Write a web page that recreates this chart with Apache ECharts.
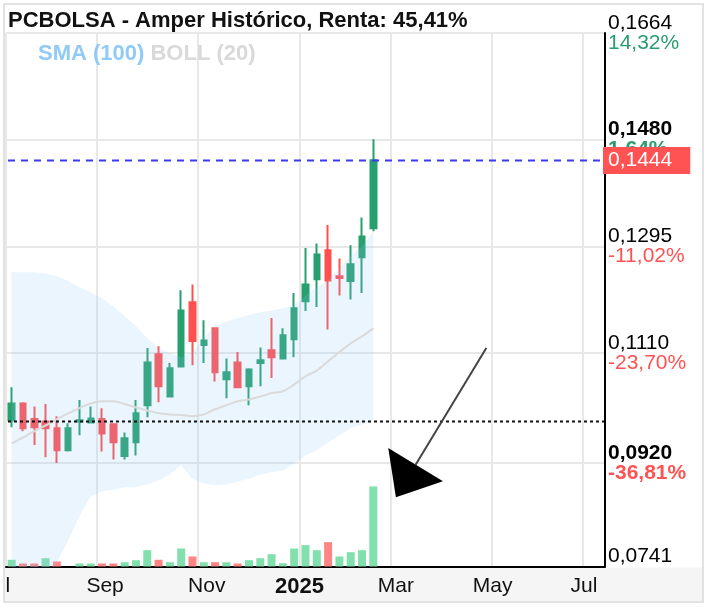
<!DOCTYPE html>
<html><head><meta charset="utf-8">
<script src="https://cdn.jsdelivr.net/npm/echarts@6/dist/echarts.min.js"></script>
<style>
html,body{margin:0;padding:0;background:#fff;}
#wrap{position:absolute;left:3px;top:3px;width:697px;height:596px;border:2px solid #e2e2e2;overflow:hidden;background:#fff;}
#chart{width:697px;height:596px;}
</style></head><body>
<div id="wrap"><div id="chart"></div></div>
<script>
// ---- data ----
const titleText = 'PCBOLSA - Amper Histórico, Renta: 45,41%';
const weeks = ['2024-07-08','2024-07-15','2024-07-22','2024-07-29','2024-08-05','2024-08-12','2024-08-19','2024-08-26',
 '2024-09-02','2024-09-09','2024-09-16','2024-09-23','2024-09-30','2024-10-07','2024-10-14','2024-10-21','2024-10-28',
 '2024-11-04','2024-11-11','2024-11-18','2024-11-25','2024-12-02','2024-12-09','2024-12-16','2024-12-23','2024-12-30',
 '2025-01-06','2025-01-13','2025-01-20','2025-01-27','2025-02-03','2025-02-10','2025-02-17','2025-02-24',
 '2025-03-03','2025-03-10','2025-03-17','2025-03-24','2025-03-31','2025-04-07','2025-04-14','2025-04-21','2025-04-28',
 '2025-05-05','2025-05-12','2025-05-19','2025-05-26','2025-06-02','2025-06-09','2025-06-16','2025-06-23','2025-06-30','2025-07-07'];
// [open, close, low, high]
const candles = [
 [0.0994,0.1023,0.0982,0.1051],[0.1023,0.0980,0.0975,0.1025],[0.0996,0.0982,0.0951,0.1018],[0.0992,0.0980,0.0930,0.1022],
 [0.0980,0.0942,0.0920,0.1001],[0.0942,0.0980,0.0940,0.0989],[0.0992,0.0994,0.0968,0.1029],[0.0990,0.0997,0.0990,0.1018],
 [0.0996,0.0971,0.0940,0.1015],[0.0987,0.0956,0.0926,0.0989],[0.0932,0.0963,0.0926,0.0973],[0.0956,0.1006,0.0933,0.1029],
 [0.1020,0.1094,0.0999,0.1119],[0.1108,0.1053,0.1025,0.1122],[0.1035,0.1084,0.1034,0.1093],[0.1087,0.1184,0.1086,0.1219],
 [0.1198,0.1131,0.1089,0.1229],[0.1124,0.1132,0.1093,0.1167],[0.1153,0.1077,0.1061,0.1155],[0.1065,0.1077,0.1032,0.1101],
 [0.1094,0.1051,0.1050,0.1112],[0.1053,0.1082,0.1020,0.1084],[0.1093,0.1098,0.1053,0.1120],[0.1115,0.1103,0.1067,0.1171],
 [0.1101,0.1141,0.1100,0.1153],[0.1134,0.1188,0.1103,0.1214],[0.1200,0.1229,0.1183,0.1292],[0.1238,0.1281,0.1190,0.1300],
 [0.1288,0.1236,0.1151,0.1332],[0.1243,0.1240,0.1210,0.1274],[0.1235,0.1264,0.1203,0.1297],[0.1276,0.1312,0.1214,0.1345],
 [0.1326,0.1444,0.1321,0.1480]];
const volumes = [67,30,30,83,50,0,30,30,30,30,43,63,163,67,43,180,100,43,43,43,30,63,83,123,33,180,213,163,243,100,143,163,800];
const volumeUp = [1,0,0,1,0,1,1,1,0,0,1,1,1,0,1,1,0,1,0,1,0,1,1,1,1,1,1,1,0,1,1,1,1];
const bollUpper = [0.1250,0.1250,0.1250,0.1248,0.1243,0.1235,0.1224,0.1216,0.1205,0.1191,0.1174,0.1157,0.1136,0.1119,0.1110,0.1103,
 0.1112,0.1136,0.1157,0.1165,0.1171,0.1176,0.1181,0.1184,0.1188,0.1193,0.1209,0.1224,0.1236,0.1257,0.1278,0.1295,0.1321];
const bollMiddle = [0.0954,0.0964,0.0975,0.0985,0.0996,0.1006,0.1015,0.1023,0.1027,0.1027,0.1022,0.1016,0.1011,0.1006,0.1004,0.1003,
 0.1001,0.1004,0.1013,0.1020,0.1027,0.1030,0.1035,0.1041,0.1044,0.1056,0.1070,0.1080,0.1096,0.1112,0.1127,0.1139,0.1153];
const bollLower = [0.0658,0.0679,0.0700,0.0722,0.0748,0.0786,0.0829,0.0862,0.0871,0.0874,0.0878,0.0878,0.0883,0.0890,0.0900,0.0916,
 0.0893,0.0885,0.0881,0.0883,0.0888,0.0893,0.0900,0.0904,0.0907,0.0919,0.0933,0.0942,0.0956,0.0968,0.0980,0.0987,0.0994];
const lastPrice = 0.1444;
const refPrice = 0.0992;
const yTicks = [0.0741, 0.0920, 0.1110, 0.1295, 0.1480, 0.1664];
const yTickPct = ['', '-36,81%', '-23,70%', '-11,02%', '1,64%', '14,32%'];
const yTickBold = [false, true, false, false, true, false];
const monthIdx = [0, 8, 17, 26, 34, 43, 51];
const monthTxt = ['Jul', 'Sep', 'Nov', '2025', 'Mar', 'May', 'Jul'];
const indicatorNames = ['SMA (100)', 'BOLL (20)'];
// arrow annotation: [fromIndex, fromValue, toIndex, toValue]
const arrowData = [[42, 0.1119, 34, 0.0861]];

// ---- styles ----
const UP = '#26a06e', DOWN = '#ff5050';
const VUP = '#82e0ad', VDOWN = '#ff8585';
const FONT = 'Liberation Sans, Arial, sans-serif';
const labelShift = {0: [0, 30, 0, 0], 8: [0, 0, 0, 6], 17: [0, 0, 0, 6], 26: [0, 12, 0, 0], 43: [0, 10, 0, 0], 51: [0, 8, 0, 0]};
const bandDiff = bollUpper.map((u, i) => +(u - bollLower[i]).toFixed(5));
const volData = volumes.map((v, i) => ({value: v, itemStyle: {color: volumeUp[i] ? VUP : VDOWN}}));
const hLineData = [[lastPrice, 0], [refPrice, 1]];

const xRich = {};
monthIdx.forEach((idx, k) => {
  const isYear = /^\d+$/.test(monthTxt[k]);
  xRich['l' + idx] = {fontSize: isYear ? 22 : 21, fontWeight: isYear ? 'bold' : 'normal', color: '#111',
    fontFamily: FONT, padding: labelShift[idx] || [0, 0, 0, 0]};
});

const chart = echarts.init(document.getElementById('chart'), null, {renderer: 'canvas'});
chart.setOption({
  animation: false,
  textStyle: {fontFamily: FONT},
  title: [
    {text: titleText, left: 3, top: 5, padding: 0,
     textStyle: {fontFamily: FONT, fontWeight: 'bold', fontSize: 22, color: '#111'}},
    {text: '{a|' + indicatorNames[0] + '} {b|' + indicatorNames[1] + '}', left: 33, top: 38, padding: 0,
     textStyle: {fontFamily: FONT, fontWeight: 'bold', fontSize: 22,
       rich: {a: {color: '#90caf9', fontWeight: 'bold', fontSize: 22, fontFamily: FONT},
              b: {color: '#d9d9d9', fontWeight: 'bold', fontSize: 22, fontFamily: FONT}}}}
  ],
  graphic: {elements: [
    {type: 'rect', z: -10, silent: true, shape: {x: 0, y: 562.5, width: 697, height: 40}, style: {fill: '#f5f5f5'}}
  ]},
  grid: {left: 1, right: 97, top: 28, bottom: 34.5, containLabel: false, outerBoundsMode: 'none'},
  xAxis: [{
    type: 'category', data: weeks, boundaryGap: true,
    axisLine: {show: true, lineStyle: {color: '#000', width: 2}},
    axisTick: {show: false},
    axisLabel: {
      interval: (i) => monthIdx.indexOf(i) >= 0,
      margin: 9,
      formatter: (v, i) => {
        const k = monthIdx.indexOf(i);
        if (k < 0) return '';
        return '{l' + i + '|' + monthTxt[k] + '}';
      },
      rich: xRich
    },
    splitLine: {show: true, interval: (i) => monthIdx.indexOf(i) >= 0, lineStyle: {color: '#e8e8e8', width: 2}}
  }],
  yAxis: [{
    type: 'value', position: 'right', min: yTicks[0], max: yTicks[yTicks.length - 1],
    axisLine: {show: true, lineStyle: {color: '#000', width: 2}},
    axisTick: {show: false, customValues: yTicks},
    axisLabel: {
      customValues: yTicks, margin: 3, align: 'left',
      formatter: function (val) {
        let j = 0, best = 1;
        yTicks.forEach((t, i) => { const d = Math.abs(t - val); if (d < best) { best = d; j = i; } });
        const txt = yTicks[j].toFixed(4).replace('.', ',');
        const b = yTickBold[j] ? 'b' : '';
        const pct = yTickPct[j];
        if (!pct) return '{v' + b + '|' + txt + '}\n{e| }';
        const neg = pct.charAt(0) === '-';
        return '{v' + b + '|' + txt + '}\n{' + (neg ? 'r' : 'g') + b + '|' + pct + '}';
      },
      rich: {
        v: {fontSize: 21, color: '#000', fontFamily: FONT, lineHeight: 20},
        vb: {fontSize: 21, color: '#000', fontWeight: 'bold', fontFamily: FONT, lineHeight: 20},
        g: {fontSize: 21, color: '#2a9d70', fontFamily: FONT, lineHeight: 20},
        gb: {fontSize: 21, color: '#2a9d70', fontWeight: 'bold', fontFamily: FONT, lineHeight: 20},
        r: {fontSize: 21, color: '#ff5252', fontFamily: FONT, lineHeight: 20},
        rb: {fontSize: 21, color: '#ff5252', fontWeight: 'bold', fontFamily: FONT, lineHeight: 20},
        e: {fontSize: 21, lineHeight: 20}
      }
    },
    splitLine: {show: true, lineStyle: {color: '#e8e8e8', width: 2}}
  }, {
    type: 'value', show: false, min: 0, max: 5330, splitLine: {show: false}
  }],
  series: [
    {type: 'bar', name: 'Volumen', yAxisIndex: 1, data: volData, barWidth: 8, silent: true},
    {type: 'line', name: 'bollLower', data: bollLower, stack: 'boll', symbol: 'none', silent: true,
     lineStyle: {opacity: 0}, clip: true},
    {type: 'line', name: 'bollBand', data: bandDiff, stack: 'boll', symbol: 'none', silent: true,
     lineStyle: {opacity: 0}, areaStyle: {color: 'rgba(144,202,249,0.26)'}, clip: true},
    {type: 'line', name: 'bollMid', data: bollMiddle, symbol: 'none', silent: true, smooth: 0.3,
     lineStyle: {color: '#dadada', width: 2}},
    {type: 'candlestick', name: 'PCBOLSA', data: candles, barWidth: 6, silent: true,
     itemStyle: {color: UP, color0: DOWN, borderColor: UP, borderColor0: DOWN, borderWidth: 2}},
    {type: 'custom', name: 'priceLines', data: hLineData, encode: {y: 0}, silent: true, z: 4, clip: false,
     renderItem: function (params, api) {
       const cs = params.coordSys;
       const y = Math.round(api.coord([0, api.value(0)])[1]) + 0.5;
       const isLast = api.value(1) === 0;
       const children = [{type: 'line', shape: {x1: cs.x + 2, y1: y, x2: cs.x + cs.width - 1, y2: y},
         style: {stroke: isLast ? '#3a3af0' : '#111', lineWidth: 2, lineDash: isLast ? [7, 6] : [3, 3]}}];
       if (isLast) {
         children.push({type: 'text', x: cs.x + cs.width - 2, y: y,
           style: {text: api.value(0).toFixed(4).replace('.', ','), fill: '#fff', backgroundColor: '#ff5252',
             padding: [3, 18, 3, 5], font: '21px ' + FONT, align: 'left', verticalAlign: 'middle', lineHeight: 21}});
       }
       return {type: 'group', children: children};
     }},
    {type: 'custom', name: 'arrow', data: arrowData, encode: {x: 0, y: 1}, silent: true, z: 5, clip: false,
     renderItem: function (params, api) {
       const p0 = api.coord([api.value(0), api.value(1)]);
       const p1 = api.coord([api.value(2), api.value(3)]);
       const dx = p1[0] - p0[0], dy = p1[1] - p0[1], len = Math.hypot(dx, dy);
       const ux = dx / len, uy = dy / len, L = 38, W = 32;
       const bx = p1[0] - ux * L, by = p1[1] - uy * L;
       return {type: 'group', children: [
         {type: 'line', shape: {x1: p0[0], y1: p0[1], x2: bx, y2: by}, style: {stroke: '#444', lineWidth: 2}},
         {type: 'polygon', shape: {points: [[p1[0], p1[1]], [bx - uy * W, by + ux * W], [bx + uy * W, by - ux * W]]},
          style: {fill: '#000'}}
       ]};
     }}
  ]
});
</script>
</body></html>
